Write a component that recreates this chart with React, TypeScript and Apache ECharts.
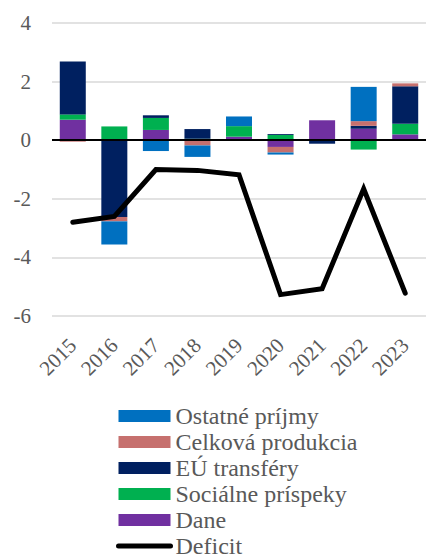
import React, { useEffect, useRef } from "react";
import * as echarts from "echarts";

const categories = ["2015", "2016", "2017", "2018", "2019", "2020", "2021", "2022", "2023"];
const dane = [0.7, 0, 0.35, 0, 0.12, -0.23, 0.68, 0.39, 0.2];
const socialne = [0.18, 0.47, 0.41, 0.05, 0.36, 0.18, 0, -0.32, 0.36];
const euTransfery = [1.81, -2.62, 0.09, 0.33, 0, 0.03, -0.12, 0.1, 1.28];
const celkova = [-0.05, -0.15, 0, -0.18, 0, -0.19, 0, 0.16, 0.1];
const ostatne = [0, -0.79, -0.37, -0.39, 0.33, -0.07, 0, 1.17, 0];
const deficit = [-2.8, -2.6, -1.0, -1.03, -1.18, -5.27, -5.07, -1.66, -5.22];
const yTicks = { min: -6, max: 4, interval: 2 };

const FONT = "'Liberation Serif', 'Times New Roman', serif";
const GRAY = "#595959";

export default function App() {
  const ref = useRef<HTMLDivElement>(null);
  useEffect(() => {
    if (!ref.current) return;
    const chart = echarts.init(ref.current, undefined, { renderer: "svg" });
    const bar = (name: string, data: number[], color: string) => ({
      name,
      type: "bar",
      stack: "total",
      data,
      barWidth: 26,
      itemStyle: { color },
      emphasis: { disabled: true },
    });
    chart.setOption({
      animation: false,
      grid: { left: 52, right: -15, top: 23, bottom: 240, containLabel: false },
      legend: {
        orient: "vertical",
        left: 116,
        top: 404,
        height: 300,
        padding: 0,
        itemWidth: 52,
        itemHeight: 12,
        itemGap: 2,
        textStyle: { fontFamily: FONT, fontSize: 24, color: GRAY, lineHeight: 24 },
        data: [
          { name: "Ostatné príjmy", icon: "rect" },
          { name: "Celková produkcia", icon: "rect" },
          { name: "EÚ transféry", icon: "rect" },
          { name: "Sociálne príspeky", icon: "rect" },
          { name: "Dane", icon: "rect" },
          {
            name: "Deficit",
            itemStyle: { opacity: 0 },
            lineStyle: { width: 5, cap: "round", color: "#000" },
          },
        ],
      },
      xAxis: {
        type: "category",
        data: categories,
        axisLine: { show: false, onZero: false },
        axisTick: { show: false },
        axisLabel: {
          rotate: 45,
          interval: 0,
          margin: 26,
          fontFamily: FONT,
          fontSize: 21,
          color: GRAY,
        },
      },
      yAxis: {
        type: "value",
        min: yTicks.min,
        max: yTicks.max,
        interval: yTicks.interval,
        axisLine: { show: false },
        axisTick: { show: false },
        splitLine: { lineStyle: { color: "#D9D9D9", width: 1.5 } },
        axisLabel: { margin: 21, fontFamily: FONT, fontSize: 21, color: GRAY },
      },
      series: [
        bar("Dane", dane, "#7030A0"),
        bar("Sociálne príspeky", socialne, "#00B050"),
        bar("EÚ transféry", euTransfery, "#002060"),
        bar("Celková produkcia", celkova, "#C6706E"),
        bar("Ostatné príjmy", ostatne, "#0070C0"),
        {
          name: "Deficit",
          type: "line",
          data: deficit,
          symbol: "none",
          lineStyle: { color: "#000", width: 5, cap: "round", join: "miter" },
          itemStyle: { color: "#000" },
          emphasis: { disabled: true },
          markLine: {
            silent: true,
            symbol: "none",
            label: { show: false },
            lineStyle: { color: "#000", width: 2, type: "solid" },
            data: [{ yAxis: 0 }],
          },
        },
      ],
    });
    return () => chart.dispose();
  }, []);
  return (
    <div
      ref={ref}
      style={{ position: "fixed", left: 0, top: 0, width: 426, height: 556, background: "#fff" }}
    />
  );
}
